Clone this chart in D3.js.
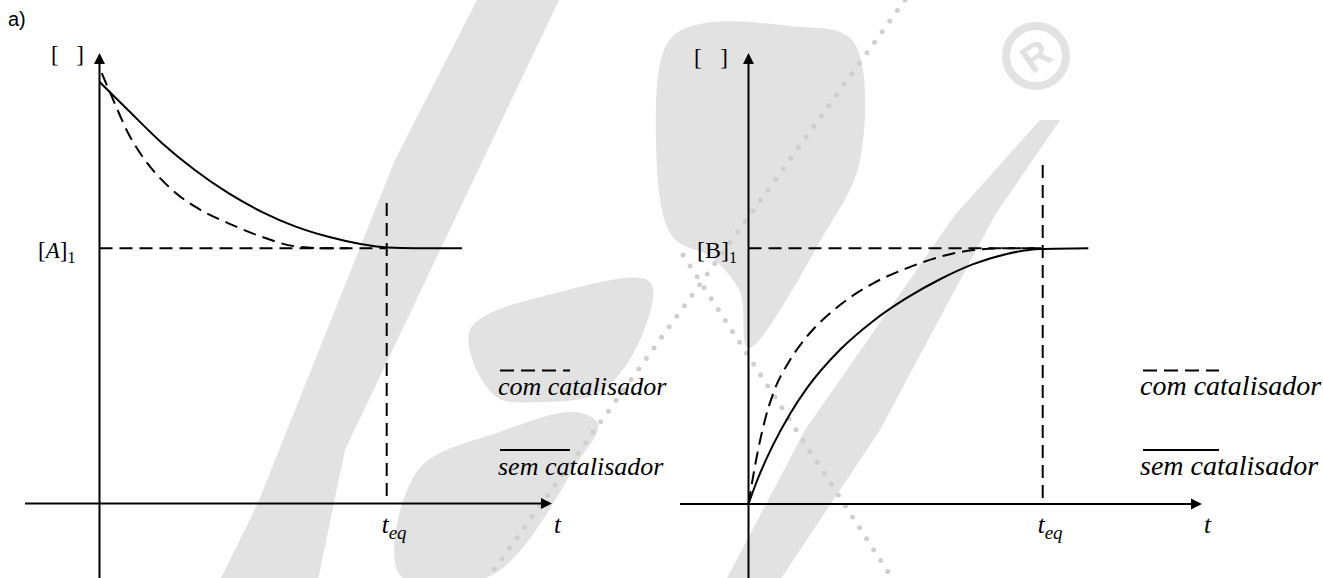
<!DOCTYPE html>
<html>
<head>
<meta charset="utf-8">
<script src="https://cdn.jsdelivr.net/npm/d3@7"></script>
<style>
  html, body { margin: 0; padding: 0; background: #fff; }
  svg { display: block; }
</style>
</head>
<body>
<svg id="chart" width="1323" height="578"></svg>
<script>
// Concentration profiles (time in arbitrary units, t_eq = 10; concentration relative to equilibrium = 1)
const teq = 10;
const eqLevel = 1;

// Reactant A: without catalyst (solid) and with catalyst (dashed)
const aSem = [[0,1.652],[1.0,1.541],[2.17,1.413],[3.33,1.306],[4.49,1.216],[5.65,1.143],[6.81,1.086],[7.97,1.045],[9.13,1.016],[10,1.003],[11,1.0],[12.62,1.0]];
const aCom = [[0.08,1.686],[0.43,1.594],[1.0,1.451],[1.58,1.346],[2.17,1.268],[2.74,1.209],[3.33,1.163],[4.49,1.098],[5.65,1.045],[6.81,1.008],[7.97,1.0],[8.65,1.0]];

// Product B: without catalyst (solid) and with catalyst (dashed)
const bSem = [[0,0],[0.28,0.088],[0.84,0.232],[1.41,0.352],[1.98,0.452],[3.11,0.603],[4.24,0.716],[5.38,0.806],[6.51,0.879],[7.64,0.938],[8.78,0.978],[9.91,0.997],[11.55,1.0]];
const bCom = [[0,0],[0.28,0.185],[0.56,0.329],[0.84,0.433],[1.41,0.563],[1.98,0.654],[3.11,0.778],[4.24,0.863],[5.38,0.922],[6.51,0.967],[7.64,0.993],[8.78,1.0],[9.9,1.0]];

// Text
const legendLabels = ["com catalisador", "sem catalisador"];
const species = ["A", "B"];

const svg = d3.select("#chart");
const serif = "'Liberation Serif', 'Times New Roman', serif";
const ink = "#000";

// Faint background logo of the publisher
const wmGrey = "#e2e2e2";
const wm = svg.append("g").attr("fill", wmGrey);
const poly = pts => d3.line()(pts) + "Z";
const blob = pts => d3.line().curve(d3.curveCatmullRomClosed.alpha(0.5))(pts);
// outer stroke of the large "G"
wm.append("path").attr("d", poly([[478,-2],[560,-2],[345,450],[318,580],[220,580],[258,503],[355,260],[395,160]]));
// inner pieces of the "G"
wm.append("path").attr("d", blob([[470,330],[560,292],[650,282],[640,340],[600,392],[540,402],[495,396]]));
wm.append("path").attr("d", blob([[400,575],[418,470],[500,432],[575,412],[598,424],[578,462],[492,575]]));
// upper block between the panels
wm.append("path").attr("d", blob([[668,42],[700,24],[790,26],[852,40],[860,160],[822,238],[748,348],[740,292],[712,258],[672,236],[656,140]]));
// slanted band across the right panel
wm.append("path").attr("d", poly([[1040,120],[1060,120],[995,215],[880,430],[780,580],[726,580],[805,430],[955,215]]));
const dotted = (a, b) => wm.append("line")
  .attr("x1", a[0]).attr("y1", a[1]).attr("x2", b[0]).attr("y2", b[1])
  .attr("stroke", "#cfcfcf").attr("stroke-width", 5)
  .attr("stroke-linecap", "round").attr("stroke-dasharray", "0,13");
dotted([905, 0], [488, 578]);
dotted([683, 255], [892, 578]);
wm.append("circle").attr("cx", 1036).attr("cy", 56).attr("r", 30)
  .attr("fill", "none").attr("stroke", wmGrey).attr("stroke-width", 8);
wm.append("text").attr("x", 1036).attr("y", 56)
  .attr("transform", "rotate(-35,1036,56)")
  .attr("text-anchor", "middle").attr("dominant-baseline", "central")
  .attr("font-family", "'Liberation Sans', Arial, sans-serif").attr("font-weight", "bold")
  .attr("font-size", 38).text("R");

svg.append("text")
  .attr("x", 8).attr("y", 26)
  .attr("font-family", "'Liberation Sans', Arial, sans-serif")
  .attr("font-size", 20)
  .text("a)");

const panels = [
  {
    name: species[0], italic: true, sem: aSem, com: aCom,
    x: d3.scaleLinear().domain([0, teq]).range([99.5, 386.7]),
    y: d3.scaleLinear().domain([0, eqLevel]).range([503.5, 248.3]),
    xAxisFrom: 25, xAxisTo: 552, yAxisTop: 53, teqTop: 203,
    bracketL: 51, bracketR: 84, bracketBase: 62,
    eqLabelX: 38, eqFont: 23,
    legendX: 498, legendLineX: [500, 570], legendFont: 26
  },
  {
    name: species[1], italic: false, sem: bSem, com: bCom,
    x: d3.scaleLinear().domain([0, teq]).range([748.5, 1042.7]),
    y: d3.scaleLinear().domain([0, eqLevel]).range([504, 248.3]),
    xAxisFrom: 680, xAxisTo: 1202, yAxisTop: 53, teqTop: 165,
    bracketL: 694, bracketR: 728, bracketBase: 65,
    eqLabelX: 697, eqFont: 24,
    legendX: 1140, legendLineX: [1143, 1219], legendFont: 28
  }
];

function arrowHead(g, tipX, tipY, dir) {
  const L = 11, W = 5.5;
  let pts;
  if (dir === "up") pts = [[tipX, tipY], [tipX - W, tipY + L], [tipX + W, tipY + L]];
  else pts = [[tipX, tipY], [tipX - L, tipY - W], [tipX - L, tipY + W]];
  g.append("path").attr("d", d3.line()(pts) + "Z").attr("fill", ink);
}

panels.forEach(p => {
  const g = svg.append("g");
  const x = p.x, y = p.y;
  const x0 = x(0), y0 = y(0);

  // Axes with arrow tips
  g.append("line").attr("x1", p.xAxisFrom).attr("x2", p.xAxisTo - 8)
    .attr("y1", y0).attr("y2", y0).attr("stroke", ink).attr("stroke-width", 2);
  arrowHead(g, p.xAxisTo, y0, "right");
  g.append("line").attr("x1", x0).attr("x2", x0)
    .attr("y1", 578).attr("y2", p.yAxisTop + 8).attr("stroke", ink).attr("stroke-width", 2);
  arrowHead(g, x0, p.yAxisTop, "up");

  // Equilibrium level and equilibrium time guides
  g.append("line").attr("x1", x0).attr("x2", x(teq))
    .attr("y1", y(eqLevel)).attr("y2", y(eqLevel))
    .attr("stroke", ink).attr("stroke-width", 2).attr("stroke-dasharray", "13,7");
  g.append("line").attr("x1", x(teq)).attr("x2", x(teq))
    .attr("y1", p.teqTop).attr("y2", y0)
    .attr("stroke", ink).attr("stroke-width", 2).attr("stroke-dasharray", "13,7");

  // Curves
  const line = d3.line().x(d => x(d[0])).y(d => y(d[1])).curve(d3.curveMonotoneX);
  g.append("path").attr("d", line(p.sem)).attr("fill", "none")
    .attr("stroke", ink).attr("stroke-width", 2);
  g.append("path").attr("d", line(p.com)).attr("fill", "none")
    .attr("stroke", ink).attr("stroke-width", 2).attr("stroke-dasharray", "13,7");

  // Axis labels
  g.append("text").attr("x", p.bracketL).attr("y", p.bracketBase)
    .attr("font-family", serif).attr("font-size", 23).text("[");
  g.append("text").attr("x", p.bracketR).attr("y", p.bracketBase)
    .attr("text-anchor", "end").attr("font-family", serif).attr("font-size", 23).text("]");

  const eq = g.append("text").attr("x", p.eqLabelX).attr("y", y(eqLevel) + 10)
    .attr("font-family", serif).attr("font-size", p.eqFont);
  eq.append("tspan").text("[");
  eq.append("tspan").attr("font-style", p.italic ? "italic" : "normal").text(p.name);
  eq.append("tspan").text("]");
  eq.append("tspan").attr("font-size", 16).attr("dy", 5).text("1");

  const tl = g.append("text").attr("x", x(teq) - 5).attr("y", y0 + 29)
    .attr("font-family", serif).attr("font-style", "italic").attr("font-size", 25);
  tl.append("tspan").text("t");
  tl.append("tspan").attr("font-size", 19).attr("dy", 6).text("eq");

  g.append("text").attr("x", p.xAxisTo + 2).attr("y", y0 + 29)
    .attr("font-family", serif).attr("font-style", "italic").attr("font-size", 25)
    .text("t");

  // Legend
  g.append("line").attr("x1", p.legendLineX[0]).attr("x2", p.legendLineX[1])
    .attr("y1", 370.5).attr("y2", 370.5)
    .attr("stroke", ink).attr("stroke-width", 2).attr("stroke-dasharray", "14,7");
  g.append("line").attr("x1", p.legendLineX[0]).attr("x2", p.legendLineX[1])
    .attr("y1", 450).attr("y2", 450)
    .attr("stroke", ink).attr("stroke-width", 2);
  [395, 475].forEach((by, i) => {
    g.append("text").attr("x", p.legendX).attr("y", by)
      .attr("font-family", serif).attr("font-style", "italic").attr("font-size", p.legendFont)
      .text(legendLabels[i]);
  });
});
</script>
</body>
</html>
